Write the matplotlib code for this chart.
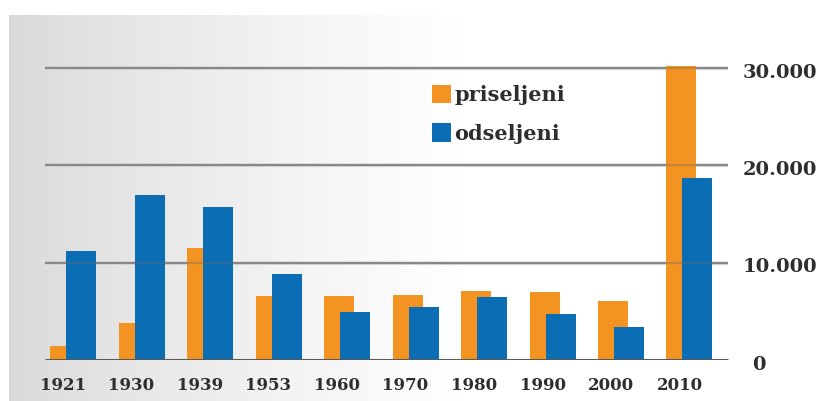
import numpy as np
import matplotlib
matplotlib.use("Agg")
import matplotlib.pyplot as plt
from matplotlib.patches import Patch

# Census years and migration counts
years = ["1921", "1930", "1939", "1953", "1960", "1970", "1980", "1990", "2000", "2010"]
priseljeni = [1400, 3800, 11500, 6600, 6600, 6700, 7100, 7000, 6100, 30200]
odseljeni = [11200, 17000, 15700, 8800, 4900, 5450, 6500, 4700, 3400, 18700]
y_ticks = [0, 10000, 20000, 30000]
y_tick_labels = ["0", "10.000", "20.000", "30.000"]

W, H = 825, 401
DPI = 100
ORANGE = "#f39322"
BLUE = "#0b6db4"
TEXT = "#2e2e2e"
FONT = "DejaVu Serif"

fig = plt.figure(figsize=(W / DPI, H / DPI), dpi=DPI)
fig.patch.set_facecolor("white")

# Grey-to-white horizontal gradient panel behind the chart
bg = fig.add_axes([9 / W, 0, 1 - 9 / W, (H - 15) / H])
bg.set_axis_off()
grad = np.linspace(0, 1, 400)
shade = np.clip(grad / 0.55, 0, 1) ** 0.8
vals = 0.85 + (1.0 - 0.85) * shade
img = np.dstack([vals, vals, vals]).repeat(2, axis=0)
bg.imshow(img, aspect="auto", extent=[0, 1, 0, 1], interpolation="bilinear")
bg.set_xlim(0, 1)
bg.set_ylim(0, 1)

# Main axes: one unit on x is one year group (68.5 px), y in persons
px_per_unit = 68.5
x0_px = 63.0
y0_px = 360.0
px_per_val = 97.3 / 10000
ax = fig.add_axes([0, (H - y0_px) / H, 1, y0_px / H])
ax.set_xlim(-x0_px / px_per_unit, (W - x0_px) / px_per_unit)
ax.set_ylim(0, y0_px / px_per_val)
ax.patch.set_alpha(0)
ax.set_axis_off()

x = np.arange(len(years))
bw = 30 / px_per_unit
off_o = 2 / px_per_unit
off_b = 18 / px_per_unit

# Horizontal gridlines with a faint shadow
gx0 = (45 - x0_px) / px_per_unit
gx1 = (728 - x0_px) / px_per_unit
for v in y_ticks:
    lw = 2.2 if v == 0 else 1.7
    col = "#5a5a5a" if v == 0 else "#999999"
    ax.plot([gx0, gx1], [v - 1.0 / px_per_val, v - 1.0 / px_per_val],
            color="#e4e4e4", lw=1.5, zorder=1, solid_capstyle="butt")
    ax.plot([gx0, gx1], [v, v], color=col, lw=lw, zorder=4 if v == 0 else 1,
            solid_capstyle="butt")

ax.bar(x + off_o, priseljeni, width=bw, color=ORANGE, zorder=2)
ax.bar(x + off_b, odseljeni, width=bw, color=BLUE, zorder=3)

# Grid lines showing faintly across the bars
for v in y_ticks[1:]:
    ax.plot([gx0, gx1], [v, v], color="#6a6a6a", lw=1.6, alpha=0.35, zorder=3.5,
            solid_capstyle="butt")

# Year labels under the bars
for xi, lab in zip(x, years):
    ax.text(xi, -25 / px_per_val, lab, ha="center", va="center",
            fontsize=12, fontweight="bold", color=TEXT, family=FONT, clip_on=False)

# Value labels on the right
lab_x = (743 - x0_px) / px_per_unit
for v, lab in zip(y_ticks, y_tick_labels):
    xx = lab_x + (9 / px_per_unit if v == 0 else 0)
    ax.text(xx, v - 4.5 / px_per_val, lab, ha="left", va="center",
            fontsize=14, fontweight="bold", color=TEXT, family=FONT)

handles = [Patch(facecolor=ORANGE, edgecolor="none", label="priseljeni"),
           Patch(facecolor=BLUE, edgecolor="none", label="odseljeni")]
leg = fig.legend(handles=handles, loc="upper left",
                 bbox_to_anchor=(417 / W, 1 - 70 / H),
                 frameon=False, handlelength=0.95, handleheight=1.0,
                 handletextpad=0.15, labelspacing=0.875, borderpad=0.2,
                 prop={"family": FONT, "weight": "bold", "size": 15})
for t in leg.get_texts():
    t.set_color(TEXT)

fig.savefig("out.png", dpi=DPI, facecolor="white")
